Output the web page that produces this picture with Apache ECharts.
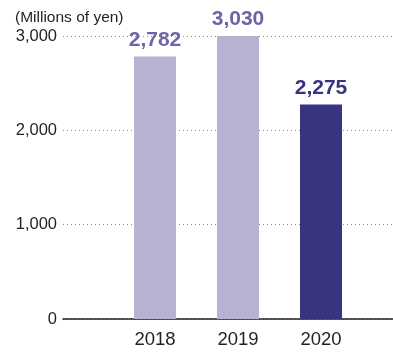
<!DOCTYPE html>
<html>
<head>
<meta charset="utf-8">
<script src="https://cdn.jsdelivr.net/npm/echarts@6/dist/echarts.min.js"></script>
<style>
  html, body { margin: 0; padding: 0; background: #fff; }
  #chart { width: 393px; height: 354px; }
</style>
</head>
<body>
<div id="chart"></div>
<script>
// Fiscal years and values (millions of yen)
const years = ['2018', '2019', '2020'];
const values = [2782, 3030, 2275];
const yTicks = [0, 1000, 2000, 3000];

const PAST_COLOR = '#b8b1d1';
const PAST_LABEL = '#6e64a7';
const CURRENT_COLOR = '#38347f';
const TEXT = '#231f20';
const FONT = '"Liberation Sans", Arial, Helvetica, sans-serif';

const lastIdx = years.length - 1;
const barData = values.map((v, i) => ({
  value: v,
  itemStyle: { color: i === lastIdx ? CURRENT_COLOR : PAST_COLOR },
  label: { color: i === lastIdx ? CURRENT_COLOR : PAST_LABEL }
}));

const chart = echarts.init(document.getElementById('chart'), null, { renderer: 'canvas' });
chart.setOption({
  animation: false,
  textStyle: { fontFamily: FONT },
  title: {
    text: '(Millions of yen)',
    left: 10,
    top: 5,
    textStyle: { fontSize: 15.5, fontWeight: 'normal', color: TEXT, fontFamily: FONT }
  },
  grid: [
    // frame: value scale, dotted guides and baseline
    { left: 63, right: 0, top: 36, bottom: 35, containLabel: false },
    // bars
    { left: 113.5, width: 249, top: 36, bottom: 35, containLabel: false }
  ],
  xAxis: [
    {
      gridIndex: 0,
      type: 'category',
      data: years,
      axisLine: { show: true, lineStyle: { color: TEXT, width: 1.6 } },
      axisTick: { show: false },
      axisLabel: { show: false }
    },
    {
      gridIndex: 1,
      type: 'category',
      data: years,
      axisLine: { show: false },
      axisTick: { show: false },
      axisLabel: { fontSize: 18.5, color: TEXT, margin: 11, fontFamily: FONT }
    }
  ],
  yAxis: [
    {
      gridIndex: 0,
      type: 'value',
      min: yTicks[0],
      max: yTicks[yTicks.length - 1],
      interval: yTicks[1] - yTicks[0],
      axisLine: { show: false },
      axisTick: { show: false },
      axisLabel: {
        fontSize: 16.5,
        color: TEXT,
        margin: 6,
        fontFamily: FONT,
        formatter: v => v.toLocaleString('en-US')
      },
      splitLine: {
        show: true,
        lineStyle: { color: '#8c8c8c', type: [1, 3], width: 1 }
      }
    },
    {
      gridIndex: 1,
      type: 'value',
      min: yTicks[0],
      max: yTicks[yTicks.length - 1],
      show: false
    }
  ],
  series: [
    {
      type: 'bar',
      xAxisIndex: 1,
      yAxisIndex: 1,
      data: barData,
      barWidth: 42,
      label: {
        show: true,
        position: 'top',
        distance: 6,
        fontSize: 21,
        fontWeight: 'bold',
        fontFamily: FONT,
        formatter: p => p.value.toLocaleString('en-US')
      }
    }
  ]
});
</script>
</body>
</html>
